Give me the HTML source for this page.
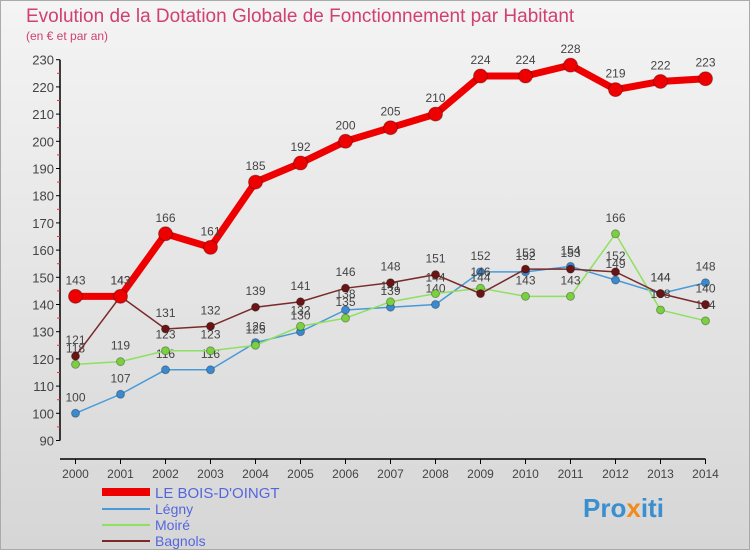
<!DOCTYPE html>
<html><head><meta charset="utf-8"><style>
body{margin:0;width:750px;height:550px;overflow:hidden;font-family:"Liberation Sans",sans-serif}
#wrap{position:relative;width:748px;height:548px;border:1px solid #aaa;background:linear-gradient(#f4f4f4,#d6d6d6)}
</style></head><body>
<div id="wrap">
<svg id="chart" width="750" height="550" style="position:absolute;left:-1px;top:-1px">
<text x="26" y="22" font-size="19" fill="#d04070">Evolution de la Dotation Globale de Fonctionnement par Habitant</text>
<text x="26" y="40" font-size="12" fill="#d04070">(en € et par an)</text>
<g id="axes"></g><g id="series"></g>
<g>
<line x1="102" y1="492" x2="150" y2="492" stroke="#e00" stroke-width="8"/>
<text x="155" y="498" font-size="15" fill="#5566dd">LE BOIS-D'OINGT</text>
<line x1="102" y1="509" x2="150" y2="509" stroke="#4a9ad8" stroke-width="2"/>
<text x="155" y="514" font-size="14" fill="#5566dd">Légny</text>
<line x1="102" y1="525" x2="150" y2="525" stroke="#8fe060" stroke-width="2"/>
<text x="155" y="530" font-size="14" fill="#5566dd">Moiré</text>
<line x1="102" y1="541" x2="150" y2="541" stroke="#7a2a2a" stroke-width="2"/>
<text x="155" y="546" font-size="14" fill="#5566dd">Bagnols</text>
</g>
<text x="583" y="517" font-size="26" font-weight="bold" fill="#3a8fd0">Pro<tspan fill="#f08a1a">x</tspan>iti</text>
</svg>
</div>
<script>
const years=[2000,2001,2002,2003,2004,2005,2006,2007,2008,2009,2010,2011,2012,2013,2014];
const yTicks=[90,100,110,120,130,140,150,160,170,180,190,200,210,220,230];
const legny=[100,107,116,116,126,130,138,139,140,152,152,154,149,144,148];
const moire=[118,119,123,123,125,132,135,141,144,146,143,143,166,138,134];
const bagnols=[121,143,131,132,139,141,146,148,151,144,153,153,152,144,140];
const bois=[143,143,166,161,185,192,200,205,210,224,224,228,219,222,223];
const NS="http://www.w3.org/2000/svg";
const xS=y=>75.5+(y-2000)*45;
const yS=v=>440.5-(v-90)*2.72;
function mk(t,a,p){const e=document.createElementNS(NS,t);for(const k in a)e.setAttribute(k,a[k]);p.appendChild(e);return e;}
const ax=document.getElementById('axes');
let e=mk('line',{x1:60,y1:yS(90),x2:60,y2:yS(230)+0,stroke:'#000','stroke-width':1.5},ax);


e=mk('line',{x1:60,y1:459,x2:xS(2014),y2:459,stroke:'#000','stroke-width':1.5},ax);


yTicks.forEach((v,i)=>{
 mk('line',{x1:56,y1:yS(v),x2:60,y2:yS(v),stroke:'#000'},ax);
 if(i<yTicks.length-1)mk('line',{x1:57,y1:yS(v+5),x2:60,y2:yS(v+5),stroke:'#e33'},ax);
 const t=mk('text',{x:54,y:yS(v)+5,'font-size':13,'text-anchor':'end',fill:'#444'},ax);t.textContent=v;
 
 
});
years.forEach(y=>{
 mk('line',{x1:xS(y),y1:459,x2:xS(y),y2:464,stroke:'#000'},ax);
 const t=mk('text',{x:xS(y),y:478,'font-size':12,'text-anchor':'middle',fill:'#444'},ax);t.textContent=y;
 
 
});
const sg=document.getElementById('series');
function series(name,data,color,w,r,dot){
 const g=mk('g',{},sg);
 
 
 const p=mk('polyline',{points:data.map((v,i)=>xS(years[i])+','+yS(v)).join(' '),fill:'none',stroke:color,'stroke-width':w},g);
 
 
 data.forEach((v,i)=>{
  const c=mk('circle',{cx:xS(years[i]),cy:yS(v),r:r,fill:dot,stroke:'rgba(0,0,0,0.3)'},g);
  
  
  const t=mk('text',{x:xS(years[i]),y:yS(v)-12,'font-size':12,'text-anchor':'middle',fill:'#444'},g);t.textContent=v;
  
  
 });
}
series('legny',legny,'#4a9ad8',1.5,4,'#3a8ad0');
series('moire',moire,'#8fe060',1.5,4,'#7ad040');
series('bagnols',bagnols,'#7a2a2a',1.5,4,'#6a1515');
series('le-bois-doingt',bois,'#e00',7,7,'#e00');
</script>
</body></html>
